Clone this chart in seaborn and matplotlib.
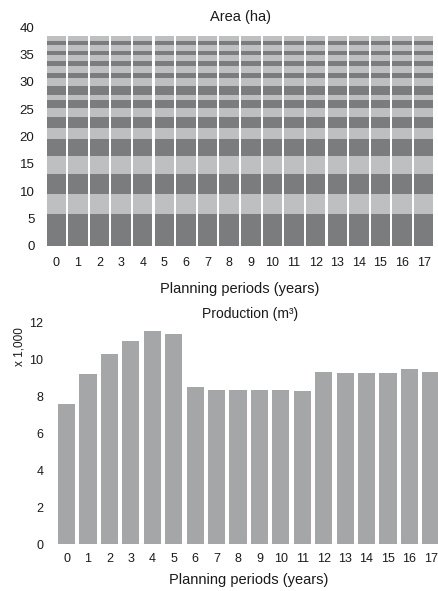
import numpy as np
import pandas as pd
import matplotlib
matplotlib.use("Agg")
import matplotlib.pyplot as plt
import seaborn as sns

# ---- data ----
periods = list(range(18))
# area of each stratum (ha), bottom to top, identical in every period
segment_area = [5.9, 3.6, 3.7, 3.2, 3.2, 1.9, 2.1, 1.6, 1.4, 1.0,
                1.6, 1.4, 1.0, 1.2, 1.0, 1.1, 0.7, 1.1, 0.7, 0.9]
# production (x 1,000 m3)
production = [7.61, 9.20, 10.32, 10.99, 11.53, 11.40, 8.50, 8.37, 8.37,
              8.37, 8.37, 8.32, 9.35, 9.27, 9.26, 9.26, 9.49, 9.31]
area_yticks = [0, 5, 10, 15, 20, 25, 30, 35, 40]
prod_yticks = [0, 2, 4, 6, 8, 10, 12]

sns.set_theme(style="white")
plt.rcParams['font.family'] = ['Liberation Sans', 'DejaVu Sans']

DARK = "#7a7c7d"
LIGHT = "#bdbfc0"
BAR = "#a4a6a7"
TXT = "#1a1a1a"

fig = plt.figure(figsize=(4.38, 5.91), dpi=100)
W, H = 438, 591

def axes_px(left, right, top, bottom):
    return fig.add_axes([left / W, 1 - bottom / H, (right - left) / W, (bottom - top) / H])

# ---- top: stacked area ----
ax1 = axes_px(45.5, 434.5, 27, 246)
rows = []
cum = np.cumsum(segment_area)
for p in periods:
    for k, c in enumerate(cum):
        rows.append({"period": p, "seg": k, "cum": c})
df_area = pd.DataFrame(rows)
for k in reversed(range(len(segment_area))):
    sub = df_area[df_area.seg == k]
    sns.barplot(data=sub, x="period", y="cum", color=DARK if k % 2 == 0 else LIGHT,
                saturation=1, width=0.9, ax=ax1, edgecolor="none", linewidth=0)
ax1.set_xlim(-0.5, 17.5)
ax1.set_ylim(0, 40)
ax1.set_yticks(area_yticks)
ax1.set_xlabel("Planning periods (years)", fontsize=10.5, color=TXT, labelpad=9)
ax1.set_ylabel("")
ax1.set_title("Area (ha)", fontsize=10.5, color=TXT, pad=4)
ax1.tick_params(axis="both", length=0, colors=TXT)
ax1.tick_params(axis="y", pad=8, labelsize=9.5)
ax1.tick_params(axis="x", pad=8, labelsize=9)
for s in ax1.spines.values():
    s.set_visible(False)

# ---- bottom: production ----
ax2 = axes_px(55.9, 441.5, 322.7, 544.3)
df_prod = pd.DataFrame({"period": periods, "production": production})
sns.barplot(data=df_prod, x="period", y="production", color=BAR, saturation=1,
            width=0.8, ax=ax2, edgecolor="none", linewidth=0)
ax2.set_xlim(-0.5, 17.5)
ax2.set_ylim(0, 12)
ax2.set_yticks(prod_yticks)
ax2.set_xlabel("Planning periods (years)", fontsize=10.5, color=TXT, labelpad=6)
ax2.set_ylabel("")
ax2.tick_params(axis="both", length=0, labelsize=9, colors=TXT)
ax2.tick_params(axis="y", pad=9)
ax2.tick_params(axis="x", pad=6)
for s in ax2.spines.values():
    s.set_visible(False)
ax2.axhline(0, color="#b0b0b0", lw=0.8, zorder=0)
fig.text(250 / W, 1 - 314 / H, "Production (m³)", ha="center", va="center",
         fontsize=10, color=TXT)
fig.text(19 / W, 1 - 347 / H, "x 1,000", ha="center", va="center",
         rotation=90, fontsize=8.5, color=TXT)

fig.savefig("out.png", dpi=100)
